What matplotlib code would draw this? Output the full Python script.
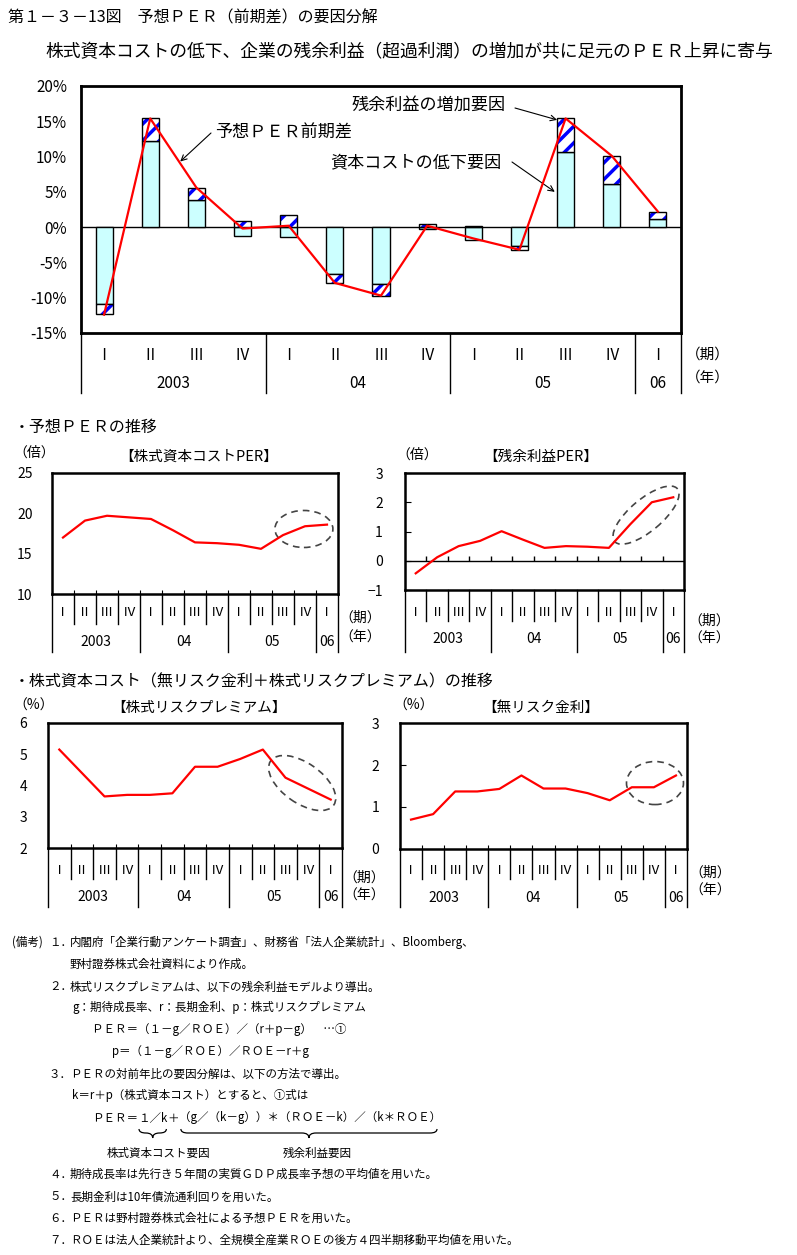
import numpy as np
import matplotlib
matplotlib.use('Agg')
import matplotlib.pyplot as plt
from matplotlib.patches import Ellipse, PathPatch
from matplotlib.path import Path
from matplotlib.transforms import blended_transform_factory, ScaledTranslation

plt.rcParams['font.family'] = ['Noto Sans CJK JP', 'DejaVu Sans']
plt.rcParams['hatch.linewidth'] = 2.5

W, H = 797, 1255

# quarters 2003 I .. 2006 I
quarters = ['Ⅰ', 'Ⅱ', 'Ⅲ', 'Ⅳ'] * 3 + ['Ⅰ']
years = ['2003', '04', '05', '06']
year_len = [4, 4, 4, 1]

# main chart: PER change decomposition (%)
cost_factor = [-10.9, 12.2, 3.8, -1.2, -1.4, -6.7, -8.1, -0.3, -1.8, -2.7, 10.6, 6.1, 1.1]
resid_factor = [-1.4, 3.2, 1.8, 0.9, 1.7, -1.2, -1.6, 0.5, 0.2, -0.5, 4.8, 4.0, 1.1]
per_diff = [-12.4, 15.4, 5.6, -0.2, 0.2, -7.9, -9.7, 0.2, -1.6, -3.2, 15.4, 10.1, 2.2]

# small charts
cost_per = [17.0, 19.1, 19.7, 19.5, 19.3, 17.9, 16.4, 16.3, 16.1, 15.6, 17.3, 18.4, 18.6]
resid_per = [-0.43, 0.12, 0.50, 0.68, 1.01, 0.72, 0.44, 0.50, 0.48, 0.44, 1.25, 2.0, 2.17]
risk_prem = [5.15, 4.4, 3.65, 3.7, 3.7, 3.75, 4.6, 4.6, 4.85, 5.15, 4.25, 3.9, 3.55]
risk_free = [0.70, 0.83, 1.37, 1.37, 1.43, 1.75, 1.44, 1.44, 1.33, 1.16, 1.47, 1.47, 1.75]

fig = plt.figure(figsize=(W / 100, H / 100), dpi=100)
# transparent overlay in pixel coordinates (y downward), drawn on top
ov = fig.add_axes([0, 0, 1, 1])
ov.set_xlim(0, W)
ov.set_ylim(H, 0)
ov.axis('off')
ov.set_zorder(10)

x = np.arange(len(quarters))
edges = np.cumsum([0] + year_len) - 0.5


def px_axes(l, t, r, b):
    return fig.add_axes([l / W, 1 - b / H, (r - l) / W, (b - t) / H])


def txt(px, py, s, fs=10, **kw):
    kw.setdefault('va', 'center')
    return ov.text(px, py, s, fontsize=fs, **kw)


def period_table(a, top, q_y, y_y, q_bot, y_bot, fq, fy, inner=True):
    tr = blended_transform_factory(a.transData, ov.transData)
    for xi, q in zip(x, quarters):
        a.text(xi, q_y, q, transform=tr, ha='center', va='center', fontsize=fq, clip_on=False)
    if inner:
        for e in x[:-1] + 0.5:
            if e not in edges:
                a.plot([e, e], [top, q_bot], transform=tr, color='black', lw=1, clip_on=False)
    for e in edges:
        a.plot([e, e], [top, y_bot], transform=tr, color='black', lw=1, clip_on=False)
    for i, yr in enumerate(years):
        a.text((edges[i] + edges[i + 1]) / 2, y_y, yr, transform=tr, ha='center', va='center',
               fontsize=fy, clip_on=False)


def ring(a, xc, yc, w, h, ang=0):
    tr = fig.dpi_scale_trans + ScaledTranslation(xc, yc, a.transData)
    a.add_patch(Ellipse((0, 0), w / 100, h / 100, angle=ang, transform=tr, fill=False,
                        ec='#444444', lw=1.2, ls=(0, (4, 3)), clip_on=False))


# ---------- titles
txt(8, 18, '第１－３－13図　予想ＰＥＲ（前期差）の要因分解', 11.5)
txt(45, 52, '株式資本コストの低下、企業の残余利益（超過利潤）の増加が共に足元のＰＥＲ上昇に寄与', 12.8)

# ---------- main chart
ax = px_axes(81, 86, 681, 333)
cost = np.array(cost_factor)
resid = np.array(resid_factor)
base = np.where(np.sign(cost) == np.sign(resid), cost, 0)
bw = 0.37
ax.bar(x, cost, bw, color='#CCFFFF', edgecolor='black', lw=1, zorder=2)
ax.bar(x, resid, bw, bottom=base, color='white', edgecolor='#0000FF', hatch='//', lw=0, zorder=2)
ax.bar(x, resid, bw, bottom=base, fill=False, edgecolor='black', lw=1, zorder=3)
ax.axhline(0, color='black', lw=1, zorder=1)
ax.plot(x, per_diff, color='red', lw=1.6, zorder=4)
ax.set_xlim(-0.5, len(x) - 0.5)
ax.set_ylim(-15, 20)
yt = np.arange(-15, 21, 5)
ax.set_yticks(yt)
ax.set_yticklabels([f'{v}%' for v in yt])
ax.set_xticks([])
ax.tick_params(axis='y', length=0, pad=10, labelsize=11)
for s in ax.spines.values():
    s.set_linewidth(2)
period_table(ax, 333, 355, 383, 393, 393, 11, 11, inner=False)
txt(686, 355, '（期）', 10.5)
txt(686, 378, '（年）', 10.5)

arrow = dict(arrowstyle='->', color='black', lw=0.8, shrinkA=0, shrinkB=0)
txt(215, 133, '予想ＰＥＲ前期差', 12.3)
ax.annotate('', xy=(1.65, 9.3), xytext=(211, 133), textcoords=ov.transData, arrowprops=arrow)
txt(352, 105, '残余利益の増加要因', 12.3)
ax.annotate('', xy=(10 - bw / 2, 15.2), xytext=(515, 108), textcoords=ov.transData, arrowprops=arrow)
txt(330, 162, '資本コストの低下要因', 12.3)
ax.annotate('', xy=(10 - bw / 2 - 0.05, 5.0), xytext=(512, 162), textcoords=ov.transData, arrowprops=arrow)


# ---------- small charts
def small_chart(l, t, r, b, vals, lo, hi, step, pad, zero=False):
    a = px_axes(l, t, r, b)
    a.plot(x, vals, color='red', lw=1.6, zorder=3)
    a.set_xlim(-0.5, len(x) - 0.5)
    a.set_ylim(lo, hi)
    a.set_yticks(np.arange(lo, hi + step / 2, step))
    a.tick_params(axis='y', direction='in', length=4 if zero else 0, pad=pad, labelsize=10)
    a.set_xticks(x[:-1] + 0.5)
    a.set_xticklabels([])
    a.tick_params(axis='x', direction='in', length=0 if zero else 3)
    if zero:
        a.axhline(0, color='black', lw=1)
        a.vlines(x[:-1] + 0.5, 0, 0.17, color='black', lw=1)
    for s in a.spines.values():
        s.set_linewidth(1.8)
    return a


txt(14, 427, '・予想ＰＥＲの推移', 11.5)

a1 = small_chart(52, 473, 338, 594, cost_per, 10, 25, 5, 14)
txt(199, 457, '【株式資本コストPER】', 10.5, ha='center')
txt(13, 453, '（倍）', 10)
ring(a1, 10.95, 18.06, 58, 37)
period_table(a1, 594, 613, 642, 624, 652, 9.5, 10)
txt(339, 618, '（期）', 10)
txt(339, 638, '（年）', 10)

a2 = small_chart(405, 473, 684, 590, resid_per, -1, 3, 1, 16, zero=True)
txt(541, 457, '【残余利益PER】', 10.5, ha='center')
txt(396, 455, '（倍）', 10)
ring(a2, 10.73, 1.56, 82, 32, 40)
period_table(a2, 590, 613, 639, 621, 652, 9.5, 10)
txt(688, 621, '（期）', 10)
txt(688, 639, '（年）', 10)

txt(14, 682, '・株式資本コスト（無リスク金利＋株式リスクプレミアム）の推移', 11.5)

a3 = small_chart(48, 723, 342, 848, risk_prem, 2, 6, 1, 15)
txt(199, 708, '【株式リスクプレミアム】', 10.5, ha='center')
txt(13, 706, '（%）', 10)
ring(a3, 10.74, 4.08, 77, 40, -35)
period_table(a3, 848, 871, 897, 879, 907, 9.5, 10)
txt(343, 878, '（期）', 10)
txt(343, 896, '（年）', 10)

a4 = small_chart(400, 723, 687, 849, risk_free, 0, 3, 1, 15, zero=False)
a4.tick_params(axis='y', length=4)
txt(541, 708, '【無リスク金利】', 10.5, ha='center')
txt(393, 706, '（%）', 10)
ring(a4, 11.05, 1.57, 57, 43)
period_table(a4, 849, 871, 898, 879, 907, 9.5, 10)
txt(689, 873, '（期）', 10)
txt(689, 891, '（年）', 10)

# ---------- notes
nf = 8.3
txt(12, 942, '(備考)', nf)
numbered = [(942, '１．', '内閣府「企業行動アンケート調査」、財務省「法人企業統計」、Bloomberg、'),
            (987, '２．', '株式リスクプレミアムは、以下の残余利益モデルより導出。'),
            (1074, '３．', 'ＰＥＲの対前年比の要因分解は、以下の方法で導出。'),
            (1174, '４．', '期待成長率は先行き５年間の実質ＧＤＰ成長率予想の平均値を用いた。'),
            (1197, '５．', '長期金利は10年債流通利回りを用いた。'),
            (1218, '６．', 'ＰＥＲは野村證券株式会社による予想ＰＥＲを用いた。'),
            (1240, '７．', 'ＲＯＥは法人企業統計より、全規模全産業ＲＯＥの後方４四半期移動平均値を用いた。')]
for py, num, body in numbered:
    txt(49, py, num, nf)
    txt(70, py, body, nf)
txt(70, 964, '野村證券株式会社資料により作成。', nf)
txt(72, 1007, 'g：期待成長率、r：長期金利、p：株式リスクプレミアム', nf)
txt(92, 1029, 'ＰＥＲ＝（１－g／ＲＯＥ）／（r＋p－g）　…①', nf)
txt(112, 1051, 'p＝（１－g／ＲＯＥ）／ＲＯＥ－r＋g', nf)
txt(72, 1096, 'k＝r＋p（株式資本コスト）とすると、①式は', nf)

# formula line with braces under its two terms
renderer = fig.canvas.get_renderer()
cx = 92
spans = []
for piece in ['ＰＥＲ＝', '１／k', '＋', '（g／（k－g））＊（ＲＯＥ－k）／（k＊ＲＯＥ）']:
    t = txt(cx, 1118, piece, nf)
    wpx = t.get_window_extent(renderer).width
    spans.append((cx, cx + wpx))
    cx += wpx


def brace(x0, x1, y0=1129, ym=1133, yt=1138):
    xm = (x0 + x1) / 2
    r = min(7, (x1 - x0) / 4)
    verts = [(x0, y0), (x0, ym), (x0 + r, ym), (xm - r, ym), (xm, ym), (xm, yt),
             (xm, ym), (xm + r, ym), (x1 - r, ym), (x1, ym), (x1, y0)]
    codes = [Path.MOVETO, Path.CURVE3, Path.CURVE3, Path.LINETO, Path.CURVE3, Path.CURVE3,
             Path.CURVE3, Path.CURVE3, Path.LINETO, Path.CURVE3, Path.CURVE3]
    ov.add_patch(PathPatch(Path(verts, codes), fill=False, lw=0.9, ec='black'))


brace(spans[1][0] + 1, spans[1][1] - 1)
brace(spans[3][0] + 2, spans[3][1] - 4)
txt(107, 1153, '株式資本コスト要因', nf)
txt(283, 1153, '残余利益要因', nf)

fig.savefig('out.png', dpi=100)
